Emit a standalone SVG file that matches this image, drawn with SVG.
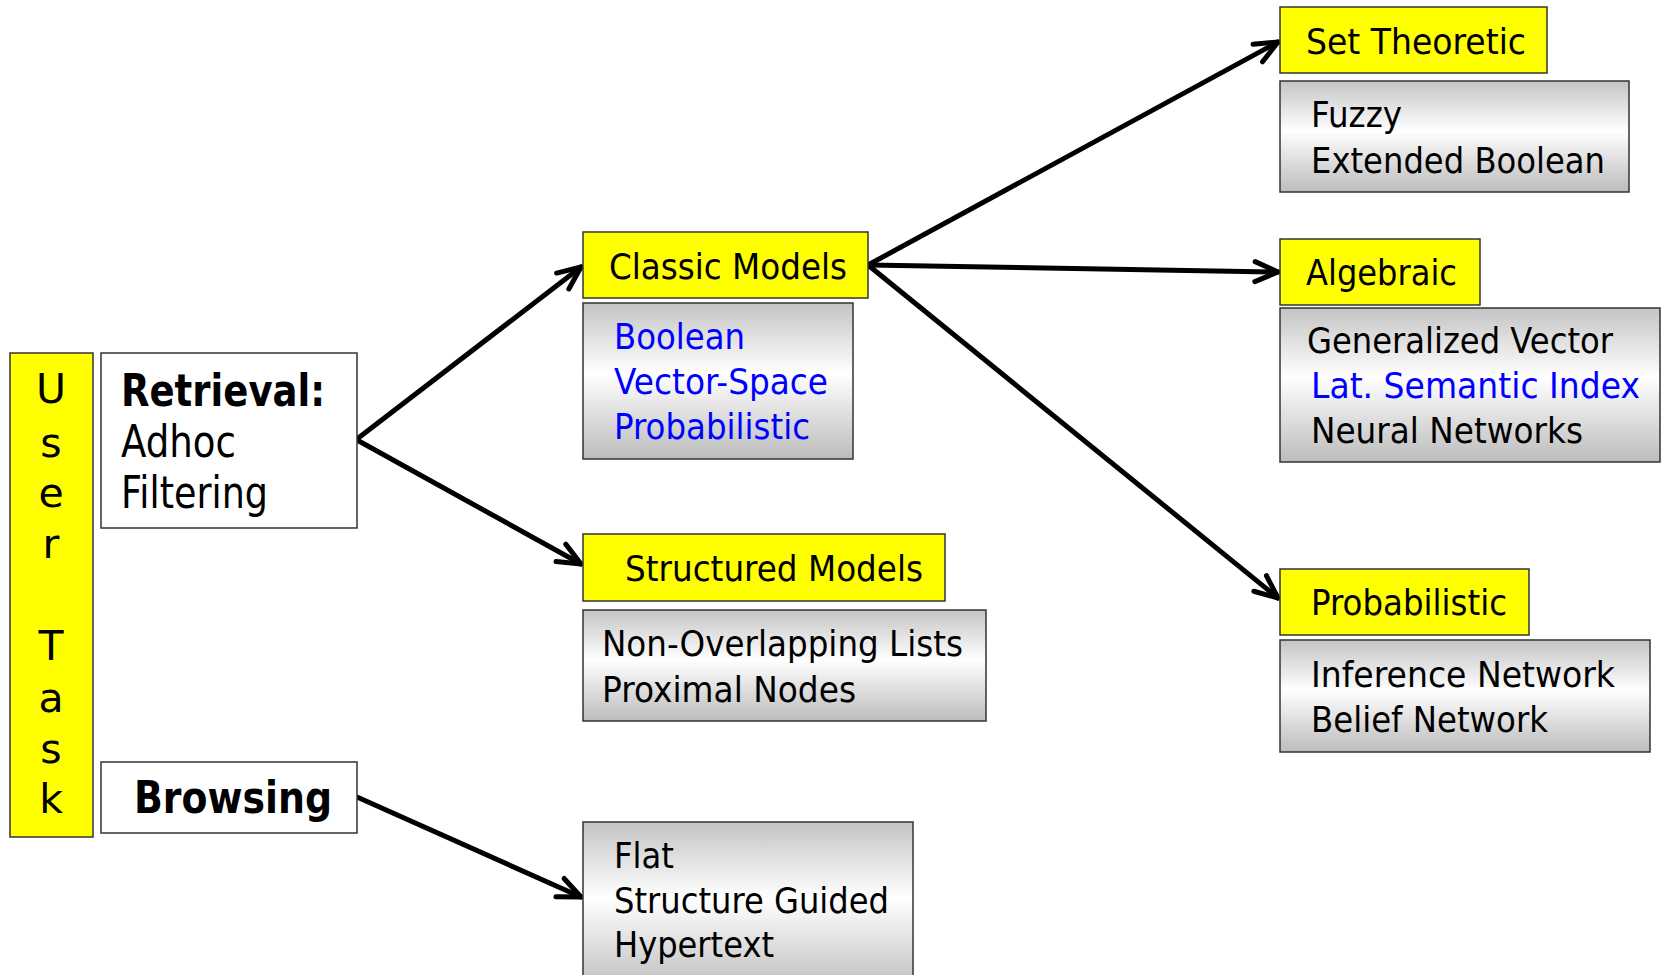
<svg xmlns="http://www.w3.org/2000/svg" width="1661" height="975" viewBox="0 0 1661 975">
<style>
.y{fill:#ffff00;stroke:#333;stroke-width:1.5}
.w{fill:#fff;stroke:#333;stroke-width:1.5}
.g{fill:url(#gr);stroke:#333;stroke-width:1.5}
text{font-family:"DejaVu Sans","Verdana",sans-serif;fill:#000}
.t{font-size:35px}
.b{font-size:44px}
.u{font-size:41px;text-anchor:middle}
.bl{fill:#0000ff}
.bold{font-weight:bold}
.c{fill:none;stroke:#000;stroke-width:5;stroke-linecap:round}
</style>
<defs>
<linearGradient id="gr" x1="0" y1="0" x2="0" y2="1">
<stop offset="0" stop-color="#c4c4c4"/>
<stop offset="0.45" stop-color="#ffffff"/>
<stop offset="1" stop-color="#bcbcbc"/>
</linearGradient>
<marker id="ah" markerUnits="userSpaceOnUse" viewBox="-30 -15 35 30" refX="0" refY="0" markerWidth="35" markerHeight="30" orient="auto" overflow="visible">
<path d="M-23,-10 L0,0 L-23,10" fill="none" stroke="#000" stroke-width="5" stroke-linecap="round" stroke-linejoin="round"/>
</marker>
</defs>

<g id="connectors">
<line class="c" x1="357" y1="439" x2="581" y2="267" marker-end="url(#ah)"/>
<line class="c" x1="357" y1="440" x2="581" y2="564" marker-end="url(#ah)"/>
<line class="c" x1="357" y1="797" x2="581" y2="897" marker-end="url(#ah)"/>
<line class="c" x1="868" y1="265" x2="1278" y2="42" marker-end="url(#ah)"/>
<line class="c" x1="868" y1="265" x2="1278" y2="272" marker-end="url(#ah)"/>
<line class="c" x1="868" y1="265" x2="1278" y2="598" marker-end="url(#ah)"/>
</g>

<g id="user-task">
<rect class="y" x="10" y="353" width="83" height="484"/>
<text class="u" x="51" y="403">U</text>
<text class="u" x="51" y="457">s</text>
<text class="u" x="51" y="507">e</text>
<text class="u" x="51" y="558">r</text>
<text class="u" x="51" y="660">T</text>
<text class="u" x="51" y="712">a</text>
<text class="u" x="51" y="763">s</text>
<text class="u" x="51" y="813">k</text>
</g>

<g id="retrieval">
<rect class="w" x="101" y="353" width="256" height="175"/>
<text class="b bold" x="121" y="406" textLength="204" lengthAdjust="spacingAndGlyphs">Retrieval:</text>
<text class="b" x="121" y="457" textLength="115" lengthAdjust="spacingAndGlyphs">Adhoc</text>
<text class="b" x="121" y="508" textLength="147" lengthAdjust="spacingAndGlyphs">Filtering</text>
</g>

<g id="browsing">
<rect class="w" x="101" y="762" width="256" height="71"/>
<text class="b bold" x="134" y="813" textLength="198" lengthAdjust="spacingAndGlyphs">Browsing</text>
</g>

<g id="classic-models">
<rect class="y" x="583" y="232" width="285" height="66"/>
<text class="t" x="609" y="279" textLength="238" lengthAdjust="spacingAndGlyphs">Classic Models</text>
</g>

<g id="classic-list">
<rect class="g" x="583" y="303" width="270" height="156"/>
<text class="t bl" x="614" y="349" textLength="131" lengthAdjust="spacingAndGlyphs">Boolean</text>
<text class="t bl" x="614" y="394" textLength="214" lengthAdjust="spacingAndGlyphs">Vector-Space</text>
<text class="t bl" x="614" y="439" textLength="196" lengthAdjust="spacingAndGlyphs">Probabilistic</text>
</g>

<g id="structured-models">
<rect class="y" x="583" y="534" width="362" height="67"/>
<text class="t" x="625" y="581" textLength="298" lengthAdjust="spacingAndGlyphs">Structured Models</text>
</g>

<g id="structured-list">
<rect class="g" x="583" y="610" width="403" height="111"/>
<text class="t" x="602" y="656" textLength="361" lengthAdjust="spacingAndGlyphs">Non-Overlapping Lists</text>
<text class="t" x="602" y="702" textLength="254" lengthAdjust="spacingAndGlyphs">Proximal Nodes</text>
</g>

<g id="browsing-list">
<rect class="g" x="583" y="822" width="330" height="170"/>
<text class="t" x="614" y="868" textLength="60" lengthAdjust="spacingAndGlyphs">Flat</text>
<text class="t" x="614" y="913" textLength="275" lengthAdjust="spacingAndGlyphs">Structure Guided</text>
<text class="t" x="614" y="957" textLength="160" lengthAdjust="spacingAndGlyphs">Hypertext</text>
</g>

<g id="set-theoretic">
<rect class="y" x="1280" y="7" width="267" height="66"/>
<text class="t" x="1306" y="54" textLength="220" lengthAdjust="spacingAndGlyphs">Set Theoretic</text>
</g>

<g id="set-list">
<rect class="g" x="1280" y="81" width="349" height="111"/>
<text class="t" x="1311" y="127" textLength="91" lengthAdjust="spacingAndGlyphs">Fuzzy</text>
<text class="t" x="1311" y="173" textLength="294" lengthAdjust="spacingAndGlyphs">Extended Boolean</text>
</g>

<g id="algebraic">
<rect class="y" x="1280" y="239" width="200" height="66"/>
<text class="t" x="1306" y="285" textLength="151" lengthAdjust="spacingAndGlyphs">Algebraic</text>
</g>

<g id="algebraic-list">
<rect class="g" x="1280" y="308" width="380" height="154"/>
<text class="t" x="1307" y="353" textLength="306" lengthAdjust="spacingAndGlyphs">Generalized Vector</text>
<text class="t bl" x="1311" y="398" textLength="329" lengthAdjust="spacingAndGlyphs">Lat. Semantic Index</text>
<text class="t" x="1311" y="443" textLength="272" lengthAdjust="spacingAndGlyphs">Neural Networks</text>
</g>

<g id="probabilistic">
<rect class="y" x="1280" y="569" width="249" height="66"/>
<text class="t" x="1311" y="615" textLength="196" lengthAdjust="spacingAndGlyphs">Probabilistic</text>
</g>

<g id="probabilistic-list">
<rect class="g" x="1280" y="640" width="370" height="112"/>
<text class="t" x="1311" y="687" textLength="304" lengthAdjust="spacingAndGlyphs">Inference Network</text>
<text class="t" x="1311" y="732" textLength="237" lengthAdjust="spacingAndGlyphs">Belief Network</text>
</g>
</svg>
